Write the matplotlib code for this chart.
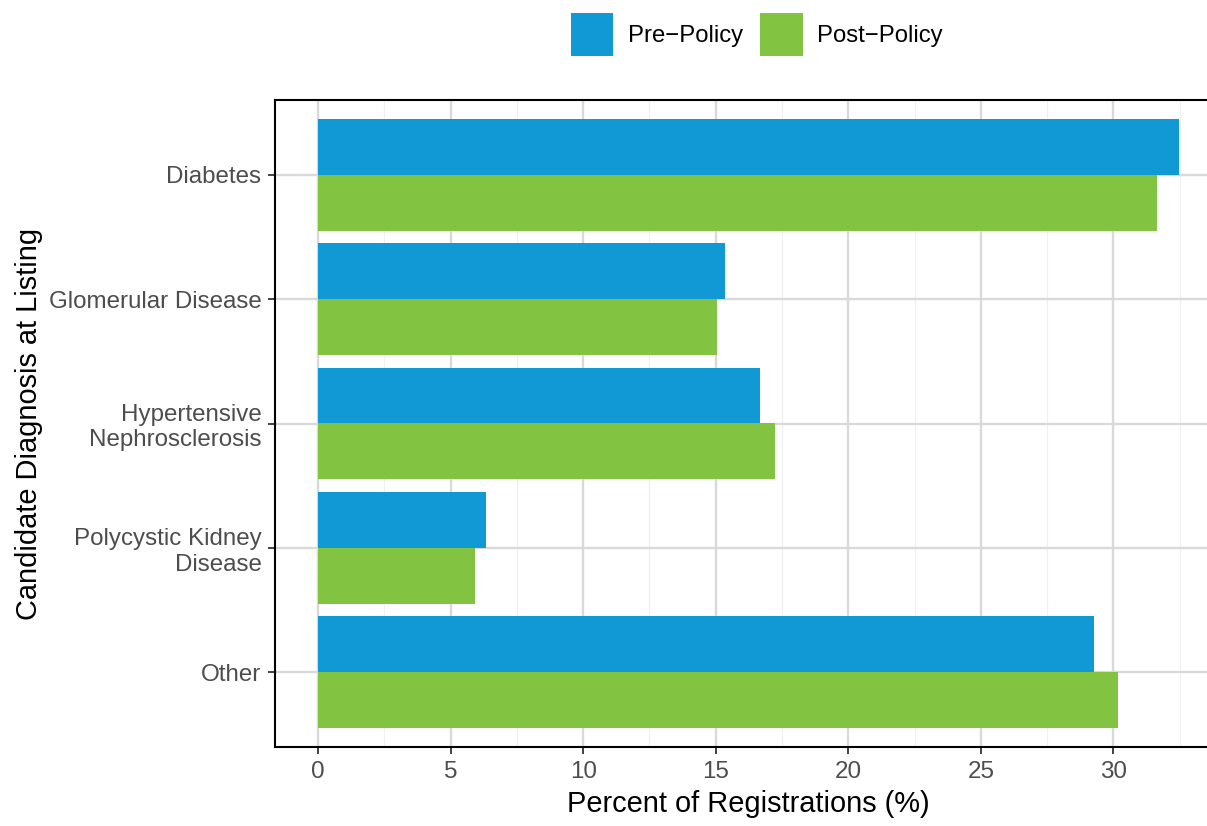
import matplotlib
matplotlib.use("Agg")
import matplotlib.pyplot as plt
from matplotlib.patches import Patch
import numpy as np

plt.rcParams['font.family'] = ['Liberation Sans', 'DejaVu Sans']

categories = ["Diabetes", "Glomerular Disease", "Hypertensive\nNephrosclerosis",
              "Polycystic Kidney\nDisease", "Other"]
pre_policy = [32.47, 15.35, 16.68, 6.32, 29.25]
post_policy = [31.65, 15.03, 17.25, 5.92, 30.18]
series_names = ["Pre\u2212Policy", "Post\u2212Policy"]
x_ticks = [0, 5, 10, 15, 20, 25, 30]

blue = "#1199D6"
green = "#82C341"
grey_text = "#4D4D4D"

W, H = 1207, 826
fig = plt.figure(figsize=(W / 100, H / 100), dpi=100)
ax = fig.add_axes([275 / W, 1 - 747 / H, (1222 - 275) / W, (747 - 100) / H])

n = len(categories)
ypos = np.arange(n)[::-1] + 1.0
bh = 0.45
ax.barh(ypos + bh / 2, pre_policy, height=bh, color=blue, zorder=3, linewidth=0)
ax.barh(ypos - bh / 2, post_policy, height=bh, color=green, zorder=3, linewidth=0)

xmax = max(max(pre_policy), max(post_policy))
ax.set_xlim(-0.05 * xmax, xmax * 1.05)
ax.set_ylim(0.4, n + 0.6)

ax.set_xticks(x_ticks)
ax.set_xticklabels([str(t) for t in x_ticks])
ax.set_xticks(np.arange(2.5, xmax * 1.05, 5), minor=True)
ax.set_yticks(ypos)
ax.set_yticklabels(categories)

ax.grid(True, which='major', color='#D9D9D9', linewidth=1.7, zorder=0)
ax.grid(True, which='minor', axis='x', color='#F0F0F0', linewidth=0.9, zorder=0)
ax.set_axisbelow(True)

ax.tick_params(axis='both', which='major', length=5.3, width=1.3, color='#333333',
               labelcolor=grey_text, labelsize=17.4, pad=4.5)
ax.tick_params(axis='both', which='minor', length=0)

for s in ax.spines.values():
    s.set_color('black')
    s.set_linewidth(1.5)

ax.set_xlabel("Percent of Registrations (%)", fontsize=20.9, color='black', labelpad=5)
ax.set_ylabel("Candidate Diagnosis at Listing", fontsize=20.9, color='black', labelpad=4)

handles = [Patch(facecolor=blue, edgecolor='none'), Patch(facecolor=green, edgecolor='none')]
fig.legend(handles, series_names, loc='upper center', ncol=2, frameon=False,
           bbox_to_anchor=(757 / W, 1 - 13 / H), fontsize=17.2,
           handlelength=1.78, handleheight=2.39, handletextpad=0.62,
           columnspacing=0.7, borderaxespad=0, borderpad=0.0)

fig.savefig("out.png", dpi=100)
